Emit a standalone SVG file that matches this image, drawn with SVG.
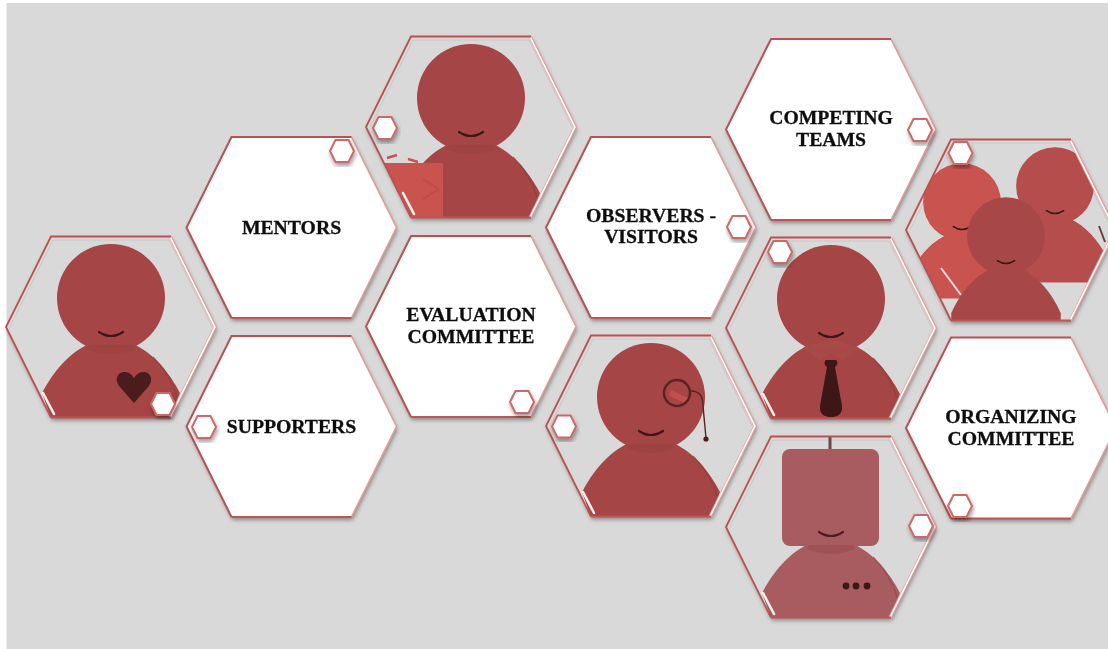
<svg xmlns="http://www.w3.org/2000/svg" width="1108" height="649" viewBox="0 0 1108 649">
<style>
.lbl{font-family:"Liberation Serif","Times New Roman",serif;font-weight:bold;font-size:19.7px;fill:#0c0c0c;stroke:#0c0c0c;stroke-width:.3;text-anchor:middle;filter:url(#soft)}
.p{fill:#a64545}
.smile{fill:none;stroke:#3d1416;stroke-width:2.2;stroke-linecap:round}
.dark{fill:#3d1416}
</style>
<defs>
<filter id="shadow" x="-15%" y="-15%" width="130%" height="135%"><feDropShadow dx="1" dy="3" stdDeviation="2.2" flood-color="#000" flood-opacity=".38"/></filter>
<filter id="blur" x="-5%" y="-5%" width="110%" height="110%"><feGaussianBlur stdDeviation=".7"/></filter>
<filter id="soft" x="-5%" y="-10%" width="110%" height="120%"><feGaussianBlur stdDeviation=".35"/></filter>
<filter id="glow" x="-40%" y="-40%" width="180%" height="180%"><feGaussianBlur stdDeviation=".5"/></filter>
<polygon id="hexshape" points="-105,0 -60,-90.5 60,-90.5 105,0 60,90.5 -60,90.5"/>
<clipPath id="hexclip"><use href="#hexshape"/></clipPath>
<g id="frameW" fill="none">
<path d="M60,-90.5 L105,0 L60,90.5" stroke="#e39a9a" stroke-width="1.6"/>
<path d="M-60,90.5 L-105,0 L-60,-90.5 L60,-90.5" stroke="#bb5050" stroke-width="2"/>
<path d="M-60,90.5 L60,90.5" stroke="#bf5555" stroke-width="2.2"/>
</g>
<g id="frame" fill="none">
<path d="M59,-90.5 L104,0 L59,90.5" stroke="#fff" stroke-width="2.4"/>
<path d="M60.5,-90.5 L105.5,0 L60.5,90.5" stroke="#e79a9a" stroke-width="1.2"/>
<path d="M58,-90 L102.5,0 L58,90" stroke="#e6a3a3" stroke-width=".8"/>
<path d="M-60,90.5 L-105,0 L-60,-90.5 L60,-90.5" stroke="#bb5050" stroke-width="1.8"/>
<path d="M-60,90.5 L60,90.5" stroke="#bf5555" stroke-width="2.2"/>
</g>
<g id="hexwhite"><use href="#hexshape" fill="#fff" filter="url(#shadow)"/><use href="#frameW"/></g>
<path id="inner" d="M-101,0 L-58,-87 L58,-87 L101,0" fill="none" stroke="#c8c8c8" stroke-width="1"/>
<use id="hexbase" href="#hexshape" fill="#d9d9d9" filter="url(#shadow)"/>
<g id="glint"><path d="M-68,66 L-57,87" stroke="#fff" stroke-width="2.6" stroke-linecap="round" opacity=".9" filter="url(#glow)"/></g>
<g id="badge"><polygon points="-12,0 -6.5,-11 6.5,-11 12,0 6.5,11 -6.5,11" fill="#fff" stroke="#cc6a6a" stroke-width="2" filter="url(#shadow)"/></g>
<path id="body" d="M-60,91 L-69,66 C-59,47 -43,26 -22,17 Q0,10 22,17 C43,26 59,47 69,66 L60,91 Z"/>
<path id="bodyT" d="M-76,105 L-76,78 C-64,50 -43,26 -22,17 Q0,10 22,17 C43,26 64,50 76,78 L76,105 Z"/>
<path id="smile" d="M-12,5 Q0,13 12,5"/>
<path id="collar" d="M-24,22 Q0,32 24,22 L22,18 L-22,18 Z"/>
<g id="person">
<circle cx="0" cy="-29" r="54" class="p"/>
<use href="#body" class="p"/>
<use href="#collar" fill="#8f3b3b" opacity=".3"/>
<path d="M42,30 Q60,48 66,70" fill="none" stroke="#923c3c" stroke-width="1.5" opacity=".7"/>
<use href="#smile" class="smile"/>
</g>
</defs>
<rect width="1108" height="649" fill="#fff"/>
<rect x="6.5" y="3" width="1102" height="646" fill="#d9d9d9"/>

<g id="connectors"/>

<g id="node-heart" transform="translate(111,327)">
<use href="#hexbase"/><use href="#inner"/>
<g clip-path="url(#hexclip)"><g filter="url(#blur)"><use href="#person"/>
<path fill="#4b1a1b" d="M23,76 L9,60 C3,53 6,45 14,45 C18,45 21,48 23,51 C25,48 28,45 32,45 C40,45 43,53 37,60 Z"/></g></g>
<use href="#glint"/><use href="#frame"/>
<use href="#badge" x="52" y="77"/>
</g>

<g id="node-mentors" transform="translate(291.5,227.5)">
<use href="#hexwhite"/><use href="#badge" x="50.5" y="-76.5"/>
<text class="lbl" y="6">MENTORS</text>
</g>

<g id="node-supporters" transform="translate(291.5,426.5)">
<use href="#hexwhite"/><use href="#badge" x="-87.5" y="0.5"/>
<text class="lbl" y="6">SUPPORTERS</text>
</g>

<g id="node-clipboard" transform="translate(471,127)">
<use href="#hexbase"/><use href="#inner"/>
<g clip-path="url(#hexclip)"><g filter="url(#blur)"><use href="#person"/>
<rect x="-105" y="36" width="77" height="60" fill="#c85250"/>
<path d="M-48,52 L-32,62 L-48,72" fill="none" stroke="#a64545" stroke-width="1.5" opacity=".35"/>
<path d="M-84,31 L-74,28 M-63,32 L-53,35" stroke="#c85250" stroke-width="2.5" fill="none"/></g></g>
<use href="#glint"/><use href="#frame"/>
<use href="#badge" x="-86" y="1"/>
</g>

<g id="node-evaluation" transform="translate(471,326.5)">
<use href="#hexwhite"/><use href="#badge" x="51" y="75.5"/>
<text class="lbl" y="-5.5">EVALUATION</text>
<text class="lbl" y="16.5">COMMITTEE</text>
</g>

<g id="node-observers" transform="translate(651,227.5)">
<use href="#hexwhite"/><use href="#badge" x="88" y="-0.5"/>
<text class="lbl" y="-5.5">OBSERVERS -</text>
<text class="lbl" y="15.5">VISITORS</text>
</g>

<g id="node-monocle" transform="translate(651,426)">
<use href="#hexbase"/><use href="#inner"/>
<g clip-path="url(#hexclip)"><g filter="url(#blur)"><use href="#person"/>
<path d="M20,-36 L37,-28 L34,-23 L18,-30 Z" fill="#c85250" opacity=".8"/>
<circle cx="26" cy="-33" r="13" fill="none" stroke="#5a2223" stroke-width="2.4"/>
<path d="M39,-35 Q52,-36 52,-20 L55,12" fill="none" stroke="#5a2223" stroke-width="1.4"/>
<circle cx="55" cy="13" r="2.6" fill="#4b1a1b"/></g></g>
<use href="#glint"/><use href="#frame"/>
<use href="#badge" x="-87" y="0.5"/>
</g>

<g id="node-competing" transform="translate(831,129.5)">
<use href="#hexwhite"/><use href="#badge" x="89" y="0.5"/>
<text class="lbl" y="-5.5">COMPETING</text>
<text class="lbl" y="16.5">TEAMS</text>
</g>

<g id="node-tie" transform="translate(831,328)">
<use href="#hexbase"/><use href="#inner"/>
<g clip-path="url(#hexclip)"><g filter="url(#blur)"><use href="#person"/>
<path d="M-28,19 L-12,32 L0,26 L12,32 L28,19 L0,12 Z" fill="#b04e4e" opacity=".5"/>
<path class="dark" d="M-5,32 C-7,34 -7,37 -4,39 L-11,78 C-12,87 -5,89 0,89 C5,89 12,87 11,78 L4,39 C7,37 7,34 5,32 Z"/></g></g>
<use href="#glint"/><use href="#frame"/>
<use href="#badge" x="-51" y="-76"/>
</g>

<g id="node-robot" transform="translate(831,527)">
<use href="#hexbase"/><use href="#inner"/>
<g clip-path="url(#hexclip)"><g filter="url(#blur)">
<path d="M-1,-91 L-1,-72" stroke="#6d4647" stroke-width="3" fill="none"/>
<use href="#body" fill="#a85c5e"/>
<rect x="-49" y="-78" width="97" height="97" rx="8" fill="#a85c5e"/>
<use href="#collar" fill="#924a4c" opacity=".5"/>
<path d="M42,30 Q60,48 66,70" fill="none" stroke="#924a4c" stroke-width="1.5" opacity=".7"/>
<use href="#smile" class="smile" stroke-opacity=".85"/>
<circle cx="15" cy="59" r="3.4" class="dark"/><circle cx="25" cy="59" r="3.4" class="dark"/><circle cx="36" cy="59" r="3.4" class="dark"/></g></g>
<use href="#glint"/><use href="#frame"/>
<use href="#badge" x="90" y="-1"/>
</g>

<g id="node-group" transform="translate(1011,230)">
<use href="#hexbase"/><use href="#inner"/>
<g clip-path="url(#hexclip)"><g filter="url(#blur)">
<g transform="translate(44,-23) scale(.72)" fill="#b54e4d"><circle cx="0" cy="-29" r="54"/><use href="#bodyT"/><use href="#smile" class="smile" stroke-width="2.6"/></g>
<path d="M88,-4 L94,12" stroke="#6d3a3a" stroke-width="2" fill="none"/>
<g transform="translate(-49,-7) scale(.72)" fill="#c85250"><circle cx="0" cy="-29" r="54"/><use href="#bodyT"/><use href="#smile" class="smile" stroke-width="2.6"/></g>
<g transform="translate(-5,27) scale(.72)" fill="#a84646"><circle cx="0" cy="-29" r="54"/><use href="#bodyT"/><use href="#smile" class="smile" stroke-width="2.6"/></g>
</g></g>
<path d="M-70,38 L-50,65" stroke="#fff" stroke-width="2" opacity=".8" filter="url(#glow)"/><use href="#frame"/>
<use href="#badge" x="-50.5" y="-77"/>
</g>

<g id="node-organizing" transform="translate(1011,428)">
<use href="#hexwhite"/><use href="#badge" x="-51" y="78"/>
<text class="lbl" y="-5">ORGANIZING</text>
<text class="lbl" y="17">COMMITTEE</text>
</g>
</svg>
